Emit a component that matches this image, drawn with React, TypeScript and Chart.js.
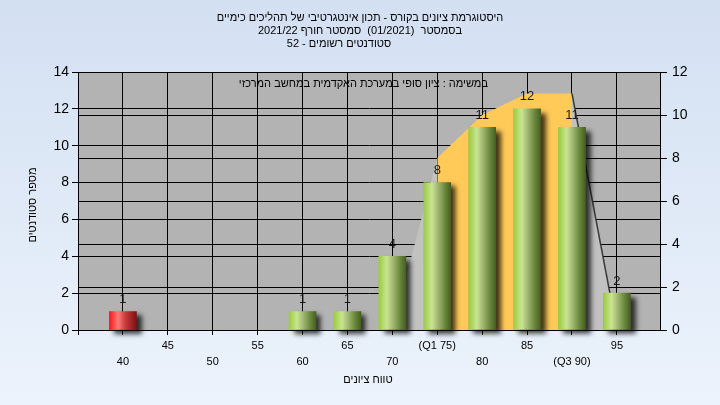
import React, { useEffect, useRef } from 'react';
import { Chart, registerables } from 'chart.js';

Chart.register(...registerables);

// Histogram bins (lower score of each bin) and number of students per bin
const scoreBins = [40, 45, 50, 55, 60, 65, 70, 75, 80, 85, 90, 95];
const studentCounts = [1, 0, 0, 0, 1, 1, 4, 8, 11, 12, 11, 2];
const failThreshold = 55;

// Distribution curve drawn on the secondary axis
const curveScores = [70, 75, 80, 85, 90, 95];
const curveValues = [0, 8, 10, 11, 11, 0];
const q1Score = 75;
const q3Score = 90;

const titleLines = [
  'היסטוגרמת ציונים בקורס - תכון אינטגרטיבי של תהליכים כימיים',
  'בסמסטר  (01/2021)  סמסטר חורף 2021/22',
  'סטודנטים רשומים - 52',
];
const noteText = 'במשימה : ציון סופי במערכת האקדמית במחשב המרכזי';
const yTitle = 'מספר סטודנטים';
const xTitle = 'טווח ציונים';

const FONT = '"Liberation Sans", Arial, sans-serif';
const BAR_W = 27;

function barFill(c: any) {
  const chart = c.chart;
  const raw = c.raw;
  if (!chart.chartArea || !raw || !chart.scales.x) return '#9cca44';
  const cx = chart.scales.x.getPixelForValue(raw.x);
  const g = chart.ctx.createLinearGradient(cx - BAR_W / 2, 0, cx + BAR_W / 2, 0);
  if (raw.x < failThreshold) {
    g.addColorStop(0, '#ff1414');
    g.addColorStop(0.32, '#ff7a7a');
    g.addColorStop(0.6, '#c83838');
    g.addColorStop(1, '#7a1414');
  } else {
    g.addColorStop(0, '#9ccb42');
    g.addColorStop(0.3, '#c9e591');
    g.addColorStop(0.52, '#a2b873');
    g.addColorStop(0.78, '#6a883c');
    g.addColorStop(1, '#465f22');
  }
  return g;
}

const chrome = {
  id: 'chrome',
  beforeDraw(chart: any) {
    const { ctx, width, height, chartArea: a } = chart;
    ctx.save();
    const g = ctx.createLinearGradient(0, 0, 0, height);
    g.addColorStop(0, '#d3e0f2');
    g.addColorStop(1, '#ecf3fc');
    ctx.fillStyle = g;
    ctx.fillRect(0, 0, width, height);
    ctx.fillStyle = '#b3b3b3';
    ctx.fillRect(a.left, a.top, a.right - a.left, a.bottom - a.top);
    ctx.restore();
  },
  beforeDatasetDraw(chart: any, args: any) {
    const ctx = chart.ctx;
    ctx.save();
    if (args.meta.type === 'bar') {
      ctx.shadowColor = 'rgba(0,0,0,0.75)';
      ctx.shadowBlur = 5;
      ctx.shadowOffsetX = 5;
      ctx.shadowOffsetY = 4;
    }
  },
  afterDatasetDraw(chart: any) {
    chart.ctx.restore();
  },
  afterDatasetsDraw(chart: any) {
    const { ctx } = chart;
    ctx.save();
    ctx.fillStyle = '#1a1a1a';
    ctx.font = `13px ${FONT}`;
    ctx.textAlign = 'center';
    ctx.textBaseline = 'middle';
    chart.data.datasets.forEach((ds: any, i: number) => {
      if (ds.type !== 'bar') return;
      chart.getDatasetMeta(i).data.forEach((el: any, j: number) => {
        ctx.fillText(String(ds.data[j].y), el.x, el.y - 12);
      });
    });
    ctx.restore();
  },
  afterDraw(chart: any) {
    const { ctx } = chart;
    ctx.save();
    ctx.fillStyle = '#000';
    ctx.font = `11px ${FONT}`;
    ctx.textBaseline = 'middle';
    ctx.textAlign = 'center';
    const lineX = [360, 360, 339];
    titleLines.forEach((t, i) => ctx.fillText(t, lineX[i], 18 + i * 13));
    ctx.textAlign = 'right';
    ctx.fillText(noteText, 488, 84);
    ctx.textAlign = 'center';
    ctx.fillText(xTitle, 368, 380);
    ctx.translate(33, 205);
    ctx.rotate(-Math.PI / 2);
    ctx.fillText(yTitle, 0, 0);
    ctx.restore();
  },
};

export default function App() {
  const ref = useRef<HTMLCanvasElement>(null);

  useEffect(() => {
    if (!ref.current) return;
    const bars = scoreBins
      .map((x, i) => ({ x, y: studentCounts[i] }))
      .filter((p) => p.y > 0);
    const curve = curveScores.map((x, i) => ({ x, y: curveValues[i] }));
    const inQuartiles = (c: any) =>
      curveScores[c.p0DataIndex] >= q1Score && curveScores[c.p1DataIndex] <= q3Score;

    const chart = new Chart(ref.current, {
      type: 'bar',
      data: {
        datasets: [
          {
            type: 'line',
            data: curve,
            xAxisID: 'x',
            yAxisID: 'y2',
            fill: 'origin',
            backgroundColor: '#c2c2c2',
            borderColor: 'rgba(0,0,0,0)',
            borderWidth: 1.5,
            pointRadius: 0,
            tension: 0,
            order: 2,
            segment: {
              backgroundColor: (c: any) => (inQuartiles(c) ? '#ffca58' : '#c2c2c2'),
              borderColor: (c: any) =>
                curveScores[c.p0DataIndex] >= q3Score ? '#3a3a3a' : 'rgba(0,0,0,0)',
            },
          } as any,
          {
            type: 'bar',
            data: bars,
            xAxisID: 'x',
            yAxisID: 'y',
            barThickness: BAR_W,
            backgroundColor: barFill,
            borderWidth: 0,
            order: 1,
            clip: false,
          } as any,
        ],
      },
      options: {
        responsive: false,
        animation: false,
        devicePixelRatio: 1,
        layout: { padding: { top: 72, left: 0, right: 0, bottom: 0 } },
        plugins: {
          legend: { display: false },
          tooltip: { enabled: false },
          title: { display: false },
        },
        scales: {
          x: {
            type: 'linear',
            min: 35,
            max: 99.8,
            offset: false,
            grid: { color: '#000', lineWidth: 1, tickLength: 5, offset: false },
            border: { color: '#000' },
            ticks: {
              stepSize: 5,
              includeBounds: false,
              autoSkip: false,
              maxRotation: 0,
              padding: 3,
              color: '#000',
              font: { size: 11, family: FONT, lineHeight: 1.45 },
              callback: (v: any) => {
                const n = Number(v);
                if (!scoreBins.includes(n)) return '';
                let s = String(n);
                if (n === q1Score) s = `(Q1 ${n})`;
                if (n === q3Score) s = `(Q3 ${n})`;
                return scoreBins.indexOf(n) % 2 === 0 ? ['', s] : s;
              },
            },
            afterFit: (s: any) => {
              s.height = 75;
            },
          },
          y: {
            position: 'left',
            min: 0,
            max: 14,
            grid: { color: '#000', lineWidth: 1, tickLength: 6 },
            border: { color: '#000' },
            ticks: { stepSize: 2, padding: 3, color: '#000', font: { size: 14, family: FONT } },
            afterFit: (s: any) => {
              s.width = 78;
            },
          },
          y2: {
            position: 'right',
            min: 0,
            max: 12,
            grid: { color: '#000', lineWidth: 1, tickLength: 7 },
            border: { color: '#000' },
            ticks: { stepSize: 2, padding: 5, color: '#000', font: { size: 14, family: FONT } },
            afterFit: (s: any) => {
              s.width = 60;
            },
          },
        },
      } as any,
      plugins: [chrome],
    });
    return () => chart.destroy();
  }, []);

  return (
    <div style={{ position: 'fixed', left: 0, top: 0, width: 720, height: 405 }}>
      <canvas ref={ref} width={720} height={405} style={{ display: 'block' }} />
    </div>
  );
}
